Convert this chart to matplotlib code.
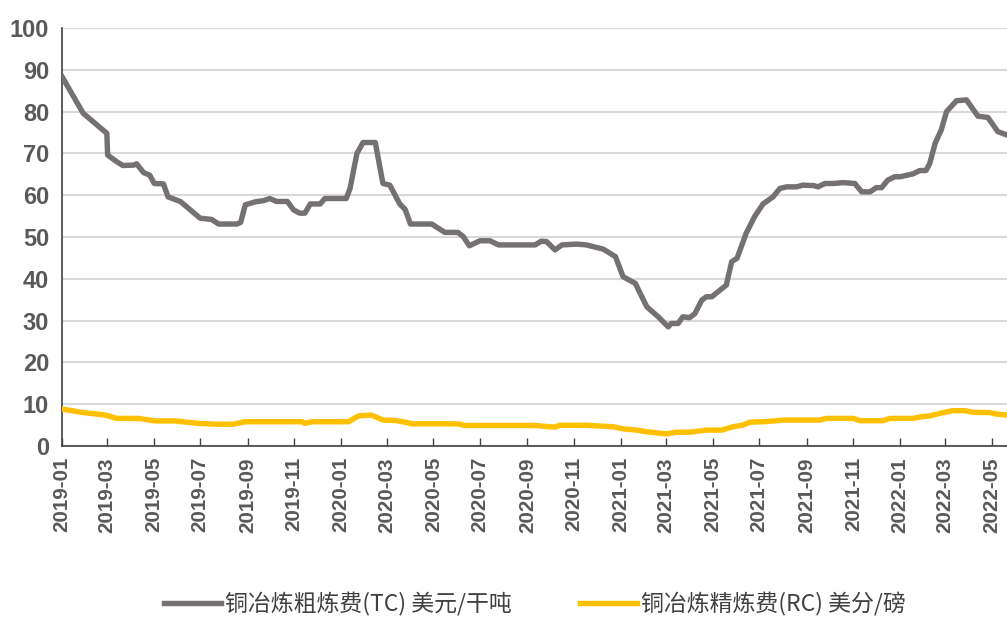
import matplotlib
matplotlib.use("Agg")
import matplotlib.pyplot as plt
import pandas as pd
from matplotlib import font_manager

tc_dates = ["2019-01-01","2019-01-29","2019-03-01","2019-03-02","2019-03-14","2019-03-22","2019-04-05","2019-04-09",
            "2019-04-18","2019-04-26","2019-05-02","2019-05-14","2019-05-20","2019-06-05","2019-07-01","2019-07-16",
            "2019-07-25","2019-08-18","2019-08-23","2019-08-29","2019-09-11","2019-09-22","2019-09-30","2019-10-09",
            "2019-10-23","2019-10-31","2019-11-08","2019-11-15","2019-11-22","2019-12-05","2019-12-11","2020-01-08",
            "2020-01-13","2020-01-22","2020-01-30","2020-02-15","2020-02-25","2020-03-05","2020-03-18","2020-03-25",
            "2020-04-01","2020-04-29","2020-05-03","2020-05-16","2020-06-02","2020-06-09","2020-06-17","2020-07-01",
            "2020-07-14","2020-07-25","2020-09-11","2020-09-19","2020-09-26","2020-10-07","2020-10-16","2020-11-04",
            "2020-11-17","2020-12-09","2020-12-25","2021-01-04","2021-01-20","2021-02-04","2021-02-19","2021-03-04",
            "2021-03-08","2021-03-17","2021-03-23","2021-04-01","2021-04-08","2021-04-17","2021-04-23","2021-04-30",
            "2021-05-19","2021-05-26","2021-06-02","2021-06-14","2021-06-25","2021-07-06","2021-07-19","2021-07-28",
            "2021-08-06","2021-08-19","2021-08-27","2021-09-10","2021-09-16","2021-09-25","2021-10-06","2021-10-19",
            "2021-11-03","2021-11-12","2021-11-23","2021-12-01","2021-12-08","2021-12-16","2021-12-25","2022-01-01",
            "2022-01-18","2022-01-27","2022-02-04","2022-02-09","2022-02-16","2022-02-24","2022-03-03","2022-03-16",
            "2022-03-29","2022-04-13","2022-04-26","2022-05-09","2022-05-21"]
tc_values = [88.5,79.6,74.8,69.6,68.0,67.1,67.2,67.5,
             65.4,64.8,62.8,62.7,59.6,58.5,54.5,54.2,
             53.1,53.1,53.5,57.7,58.4,58.7,59.2,58.5,
             58.5,56.5,55.7,55.7,57.9,57.9,59.2,59.2,
             61.6,70.0,72.6,72.6,62.8,62.4,57.9,56.6,
             53.1,53.1,52.6,51.1,51.1,50.1,47.9,49.1,
             49.1,48.1,48.1,49.0,48.9,46.9,48.1,48.3,
             48.1,47.1,45.3,40.5,38.9,33.3,30.9,28.5,
             29.3,29.3,30.9,30.7,31.7,34.9,35.7,35.7,
             38.5,44.1,44.9,50.9,54.9,57.9,59.6,61.6,
             62.0,62.0,62.4,62.3,62.0,62.8,62.8,63.0,
             62.8,60.8,60.8,61.8,61.8,63.6,64.4,64.4,
             65.1,65.9,65.9,67.6,72.4,75.6,80.0,82.6,
             82.8,78.9,78.6,75.2,74.4]

rc_dates = ["2019-01-01","2019-01-27","2019-02-27","2019-03-14","2019-04-11","2019-05-03","2019-05-29","2019-06-29",
            "2019-07-25","2019-08-13","2019-08-29","2019-11-11","2019-11-15","2019-11-24","2020-01-11","2020-01-24",
            "2020-02-10","2020-02-25","2020-03-12","2020-03-25","2020-04-03","2020-06-02","2020-06-11","2020-09-11",
            "2020-10-07","2020-10-13","2020-11-17","2020-12-22","2021-01-04","2021-01-22","2021-02-04","2021-03-02",
            "2021-03-15","2021-04-01","2021-04-23","2021-05-13","2021-05-28","2021-06-10","2021-06-19","2021-07-06",
            "2021-07-24","2021-08-01","2021-09-18","2021-09-27","2021-11-01","2021-11-10","2021-12-10","2021-12-19",
            "2022-01-18","2022-01-29","2022-02-09","2022-02-22","2022-03-11","2022-03-27","2022-04-07","2022-04-28",
            "2022-05-07","2022-05-21"]
rc_values = [8.85,8.05,7.4,6.6,6.6,6.0,6.0,5.4,
             5.2,5.2,5.8,5.8,5.4,5.8,5.8,7.2,
             7.4,6.2,6.1,5.7,5.3,5.3,4.9,4.9,
             4.5,4.95,4.95,4.6,4.1,3.8,3.4,2.9,
             3.3,3.3,3.8,3.8,4.6,5.0,5.7,5.8,
             6.05,6.2,6.2,6.6,6.6,6.05,6.05,6.6,
             6.6,7.0,7.2,7.8,8.45,8.45,8.05,8.0,
             7.65,7.4]

tick_labels = ["2019-01","2019-03","2019-05","2019-07","2019-09","2019-11",
               "2020-01","2020-03","2020-05","2020-07","2020-09","2020-11",
               "2021-01","2021-03","2021-05","2021-07","2021-09","2021-11",
               "2022-01","2022-03","2022-05"]
series_names = ["铜冶炼粗炼费(TC) 美元/干吨", "铜冶炼精炼费(RC) 美分/磅"]
y_ticks = [0, 10, 20, 30, 40, 50, 60, 70, 80, 90, 100]

avail = {f.name for f in font_manager.fontManager.ttflist}
num_font = "Liberation Sans Narrow" if "Liberation Sans Narrow" in avail else "Liberation Sans"

fig = plt.figure(figsize=(10.07, 6.19), dpi=100)
ax = fig.add_axes([0.0613, 0.2795, 0.9387, 0.6753])

tc_x = pd.to_datetime(tc_dates)
rc_x = pd.to_datetime(rc_dates)
ax.plot(tc_x, tc_values, color="#767171", lw=3.9, solid_joinstyle="round", label=series_names[0], zorder=3)
ax.plot(rc_x, rc_values, color="#FFC000", lw=3.9, solid_joinstyle="round", label=series_names[1], zorder=3)

ax.set_ylim(0, 100)
ax.set_yticks(y_ticks)
ax.set_xlim(pd.Timestamp("2019-01-01"), pd.Timestamp("2022-05-21"))
ticks = pd.to_datetime([t + "-01" for t in tick_labels])
ax.set_xticks(ticks)
ax.set_xticklabels(tick_labels, rotation=90)

ax.grid(axis="y", color="#d9d9d9", lw=1.5)
ax.set_axisbelow(True)
for s in ["top", "right"]:
    ax.spines[s].set_visible(False)
for s in ["left", "bottom"]:
    ax.spines[s].set_color("#404040")
    ax.spines[s].set_linewidth(1.2)

ax.tick_params(axis="y", length=0, pad=9, labelsize=17, labelcolor="#595959")
ax.tick_params(axis="x", direction="in", length=6, width=1, color="#404040", pad=8,
               labelsize=14.8, labelcolor="#595959")
for lab in ax.get_yticklabels() + ax.get_xticklabels():
    lab.set_fontfamily(num_font)
    lab.set_fontweight("bold")

fig.legend(loc="center", bbox_to_anchor=(0.531, 0.024), ncol=2, frameon=False,
           handlelength=2.5, columnspacing=3.0, handletextpad=0.15,
           prop={"family": ["Noto Sans CJK SC", "DejaVu Sans"], "size": 16.5}, labelcolor="#404040")

fig.savefig("out.png", dpi=100)
